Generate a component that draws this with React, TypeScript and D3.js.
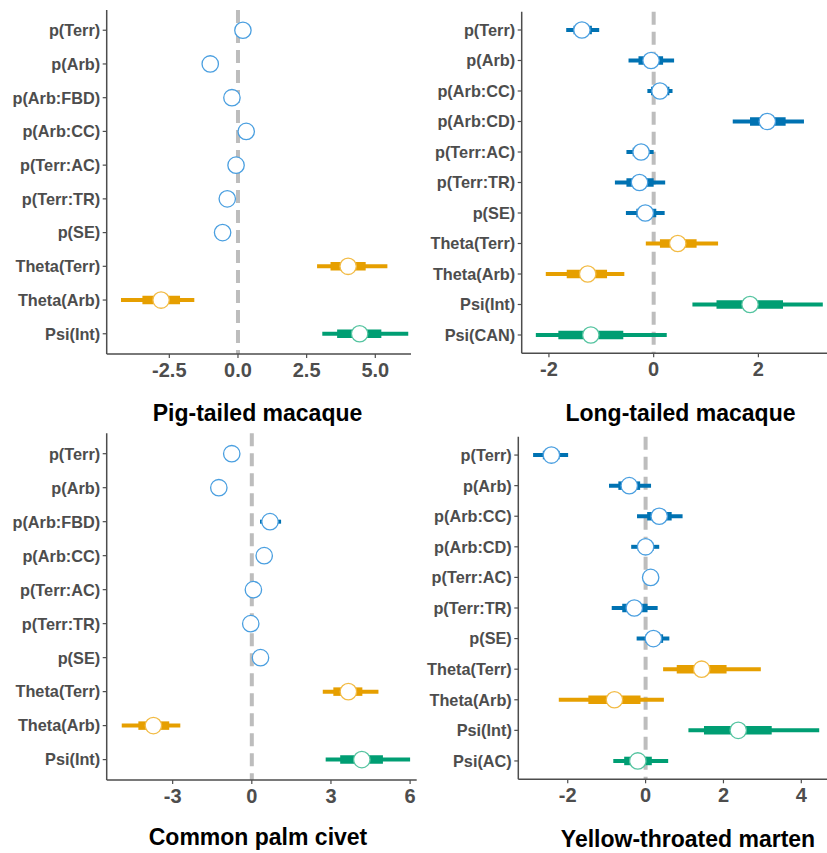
import React from "react";
import * as d3 from "d3";

// ---- data ----
const pigLabels = ["p(Terr)", "p(Arb)", "p(Arb:FBD)", "p(Arb:CC)", "p(Terr:AC)", "p(Terr:TR)", "p(SE)", "Theta(Terr)", "Theta(Arb)", "Psi(Int)"];
const pigEst = [0.18, -1.01, -0.22, 0.3, -0.07, -0.39, -0.56, 4.01, -2.8, 4.43];
const pigInLo = [0.1, -1.08, -0.3, 0.22, -0.14, -0.46, -0.63, 3.37, -3.48, 3.61];
const pigInHi = [0.26, -0.94, -0.14, 0.38, 0.0, -0.32, -0.49, 4.65, -2.11, 5.22];
const pigOutLo = [0.02, -1.16, -0.38, 0.14, -0.22, -0.54, -0.71, 2.88, -4.26, 3.07];
const pigOutHi = [0.34, -0.86, -0.06, 0.46, 0.08, -0.24, -0.41, 5.44, -1.59, 6.2];

const longLabels = ["p(Terr)", "p(Arb)", "p(Arb:CC)", "p(Arb:CD)", "p(Terr:AC)", "p(Terr:TR)", "p(SE)", "Theta(Terr)", "Theta(Arb)", "Psi(Int)", "Psi(CAN)"];
const longEst = [-1.37, -0.05, 0.12, 2.17, -0.24, -0.27, -0.16, 0.46, -1.26, 1.84, -1.2];
const longInLo = [-1.53, -0.29, -0.05, 1.84, -0.4, -0.52, -0.33, 0.12, -1.66, 1.2, -1.82];
const longInHi = [-1.18, 0.18, 0.3, 2.52, -0.1, 0.0, 0.05, 0.82, -0.89, 2.47, -0.58];
const longOutLo = [-1.67, -0.48, -0.12, 1.51, -0.52, -0.74, -0.53, -0.15, -2.06, 0.74, -2.25];
const longOutHi = [-1.04, 0.39, 0.36, 2.87, 0.0, 0.22, 0.21, 1.23, -0.56, 3.23, 0.25];

const civetLabels = ["p(Terr)", "p(Arb)", "p(Arb:FBD)", "p(Arb:CC)", "p(Terr:AC)", "p(Terr:TR)", "p(SE)", "Theta(Terr)", "Theta(Arb)", "Psi(Int)"];
const civetEst = [-0.76, -1.25, 0.69, 0.47, 0.06, -0.04, 0.33, 3.66, -3.73, 4.17];
const civetInLo = [-0.84, -1.33, 0.45, 0.39, -0.02, -0.12, 0.25, 3.09, -4.3, 3.35];
const civetInHi = [-0.68, -1.17, 0.95, 0.55, 0.14, 0.04, 0.41, 4.19, -3.13, 4.97];
const civetOutLo = [-0.92, -1.41, 0.31, 0.31, -0.1, -0.2, 0.17, 2.69, -4.93, 2.8];
const civetOutHi = [-0.6, -1.09, 1.11, 0.63, 0.22, 0.12, 0.49, 4.8, -2.71, 6.0];

const martenLabels = ["p(Terr)", "p(Arb)", "p(Arb:CC)", "p(Arb:CD)", "p(Terr:AC)", "p(Terr:TR)", "p(SE)", "Theta(Terr)", "Theta(Arb)", "Psi(Int)", "Psi(AC)"];
const martenEst = [-2.42, -0.42, 0.35, 0.0, 0.13, -0.29, 0.2, 1.44, -0.8, 2.38, -0.2];
const martenInLo = [-2.64, -0.7, 0.04, -0.2, 0.05, -0.6, 0.0, 0.8, -1.47, 1.5, -0.55];
const martenInHi = [-2.21, -0.14, 0.67, 0.2, 0.21, 0.05, 0.45, 2.08, -0.13, 3.24, 0.16];
const martenOutLo = [-2.89, -0.94, -0.22, -0.37, 0.0, -0.87, -0.23, 0.45, -2.23, 1.1, -0.83];
const martenOutHi = [-1.99, 0.14, 0.95, 0.35, 0.26, 0.31, 0.61, 2.96, 0.47, 4.46, 0.58];

const pigTicks = [-2.5, 0, 2.5, 5];
const longTicks = [-2, 0, 2];
const civetTicks = [-3, 0, 3, 6];
const martenTicks = [-2, 0, 2, 4];

const groupColor = (lab: string) =>
  lab.startsWith("p(") ? "#0072B2" : lab.startsWith("Theta") ? "#E69F00" : "#009E73";
const groupStroke = (lab: string) =>
  lab.startsWith("p(") ? "#4a9fe0" : lab.startsWith("Theta") ? "#f2bb45" : "#55c4a0";

const FONT = "'Liberation Sans', Arial, Helvetica, sans-serif";

type PanelProps = {
  title: string;
  labels: string[];
  est: number[];
  inLo: number[];
  inHi: number[];
  outLo: number[];
  outHi: number[];
  ticks: number[];
  fmt: (v: number) => string;
  domain: [number, number];
  left: number;
  right: number;
  top: number;
  bottom: number;
  titleX: number;
  titleY: number;
};

const Panel = (p: PanelProps) => {
  const x = d3.scaleLinear().domain(p.domain).range([p.left, p.right]);
  const y = d3.scalePoint<string>().domain(p.labels).range([p.top, p.bottom]).padding(0.6);
  const axisColor = "#4d4d4d";
  return (
    <g>
      {/* zero reference line */}
      <line
        x1={x(0)}
        x2={x(0)}
        y1={p.top}
        y2={p.bottom}
        stroke="#bdbdbd"
        strokeWidth={4}
        strokeDasharray="13 7"
      />
      {p.labels.map((lab, i) => {
        const cy = y(lab)!;
        const col = groupColor(lab);
        return (
          <g key={lab}>
            <line x1={x(p.outLo[i])} x2={x(p.outHi[i])} y1={cy} y2={cy} stroke={col} strokeWidth={4} />
            <line x1={x(p.inLo[i])} x2={x(p.inHi[i])} y1={cy} y2={cy} stroke={col} strokeWidth={8.5} />
            <circle cx={x(p.est[i])} cy={cy} r={8.2} fill="#fff" stroke={groupStroke(lab)} strokeWidth={1.3} />
          </g>
        );
      })}
      {/* axes */}
      <line x1={p.left} x2={p.left} y1={p.top} y2={p.bottom} stroke={axisColor} strokeWidth={1.5} />
      <line x1={p.left} x2={p.right} y1={p.bottom} y2={p.bottom} stroke={axisColor} strokeWidth={1.5} />
      {p.labels.map((lab) => (
        <g key={"t" + lab}>
          <line x1={p.left - 4} x2={p.left} y1={y(lab)} y2={y(lab)} stroke={axisColor} strokeWidth={1.2} />
          <text
            x={p.left - 6.5}
            y={y(lab)}
            dy="0.36em"
            textAnchor="end"
            fontFamily={FONT}
            fontWeight="bold"
            fontSize={16.3}
            fill="#4d4d4d"
          >
            {lab}
          </text>
        </g>
      ))}
      {p.ticks.map((t) => (
        <g key={"x" + t}>
          <line x1={x(t)} x2={x(t)} y1={p.bottom} y2={p.bottom + 4} stroke={axisColor} strokeWidth={1.2} />
          <text
            x={x(t)}
            y={p.bottom + 22.5}
            textAnchor="middle"
            fontFamily={FONT}
            fontWeight="bold"
            fontSize={20}
            fill="#4d4d4d"
          >
            {p.fmt(t)}
          </text>
        </g>
      ))}
      <text
        x={p.titleX}
        y={p.titleY}
        textAnchor="middle"
        fontFamily={FONT}
        fontWeight="bold"
        fontSize={23}
        fill="#000"
      >
        {p.title}
      </text>
    </g>
  );
};

const fmt1 = (v: number) => (v < 0 ? "-" : "") + d3.format(".1f")(Math.abs(v));
const fmt0 = (v: number) => (v < 0 ? "-" : "") + d3.format("d")(Math.abs(v));

export default function App() {
  return (
    <svg
      width={827}
      height={853}
      style={{ position: "absolute", left: 0, top: 0, background: "#fff" }}
    >
      <rect width={827} height={853} fill="#fff" />
      <Panel
        title="Pig-tailed macaque"
        labels={pigLabels}
        est={pigEst}
        inLo={pigInLo}
        inHi={pigInHi}
        outLo={pigOutLo}
        outHi={pigOutHi}
        ticks={pigTicks}
        fmt={fmt1}
        domain={[-4.78, 6.3]}
        left={106.7}
        right={411}
        top={10}
        bottom={354}
        titleX={257.5}
        titleY={421}
      />
      <Panel
        title="Long-tailed macaque"
        labels={longLabels}
        est={longEst}
        inLo={longInLo}
        inHi={longInHi}
        outLo={longOutLo}
        outHi={longOutHi}
        ticks={longTicks}
        fmt={fmt0}
        domain={[-2.52, 3.31]}
        left={521.7}
        right={827}
        top={11.7}
        bottom={353.3}
        titleX={680.5}
        titleY={421}
      />
      <Panel
        title="Common palm civet"
        labels={civetLabels}
        est={civetEst}
        inLo={civetInLo}
        inHi={civetInHi}
        outLo={civetOutLo}
        outHi={civetOutHi}
        ticks={civetTicks}
        fmt={fmt0}
        domain={[-5.5, 6.25]}
        left={106.7}
        right={416.7}
        top={433.3}
        bottom={780}
        titleX={258}
        titleY={845}
      />
      <Panel
        title="Yellow-throated marten"
        labels={martenLabels}
        est={martenEst}
        inLo={martenInLo}
        inHi={martenInHi}
        outLo={martenOutLo}
        outHi={martenOutHi}
        ticks={martenTicks}
        fmt={fmt0}
        domain={[-3.27, 4.66]}
        left={518.3}
        right={827}
        top={436.7}
        bottom={779.3}
        titleX={688}
        titleY={847}
      />
    </svg>
  );
}
